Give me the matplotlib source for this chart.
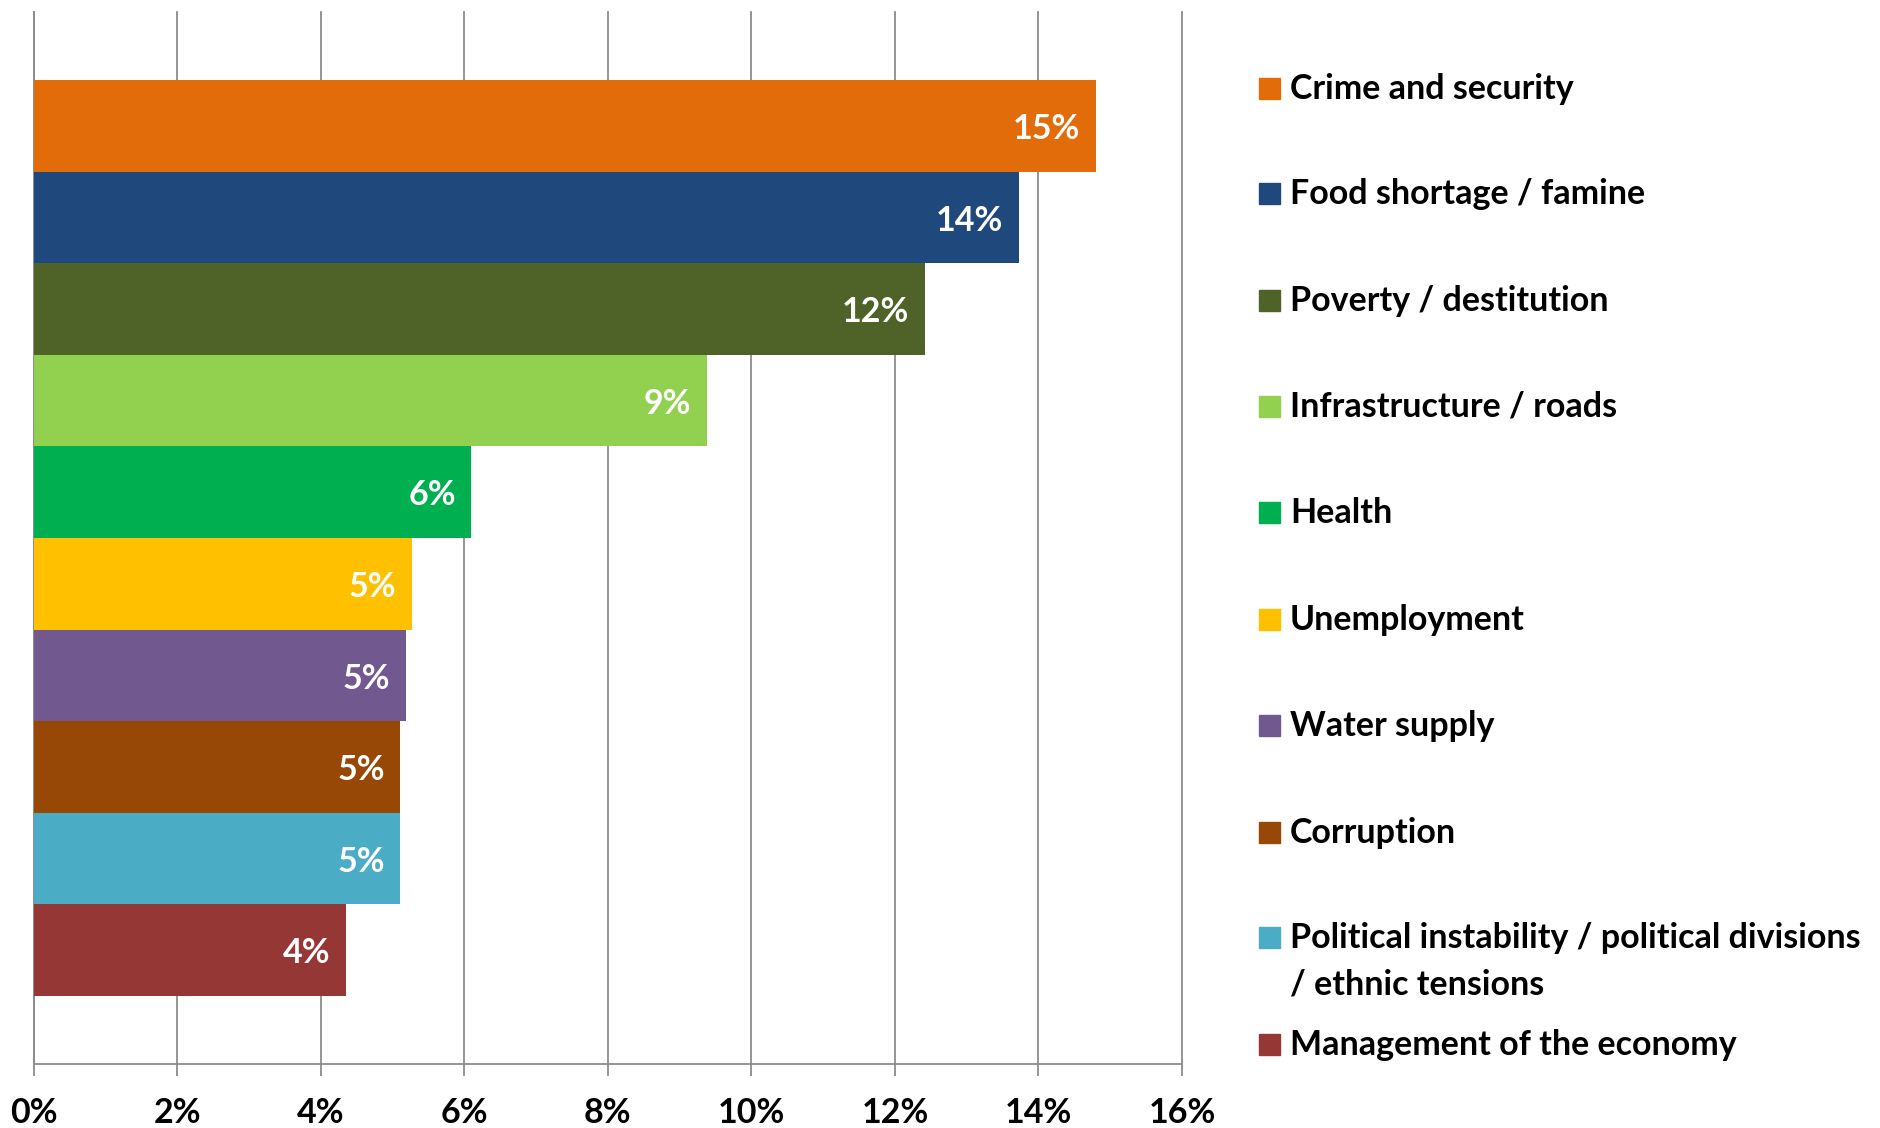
import matplotlib
matplotlib.use("Agg")
import matplotlib.pyplot as plt
from matplotlib.patches import Rectangle

# ---- data ----
categories = ["Crime and security", "Food shortage / famine", "Poverty / destitution",
              "Infrastructure / roads", "Health", "Unemployment", "Water supply",
              "Corruption", "Political instability / political divisions\n/ ethnic tensions",
              "Management of the economy"]
values = [14.80, 13.73, 12.42, 9.38, 6.10, 5.27, 5.19, 5.11, 5.11, 4.35]
labels = ["15%", "14%", "12%", "9%", "6%", "5%", "5%", "5%", "5%", "4%"]
colors = ["#E36C0A", "#1F497D", "#4F6228", "#92D050", "#00B050", "#FFC000",
          "#71588F", "#974806", "#4BACC6", "#953735"]
xticks = [0, 2, 4, 6, 8, 10, 12, 14, 16]
xticklabels = ["0%", "2%", "4%", "6%", "8%", "10%", "12%", "14%", "16%"]

plt.rcParams['font.family'] = ['Lato', 'DejaVu Sans']
plt.rcParams['font.weight'] = 'bold'

W, H = 1881, 1128
fig = plt.figure(figsize=(W / 100, H / 100), dpi=100)

left, right, top, bottom = 33.6, 1182, 12, 1064
ax = fig.add_axes([left / W, 1 - bottom / H, (right - left) / W, (bottom - top) / H])

FS = 24.5
n = len(values)
gap = 0.0646
bh = (1 - 2 * gap) / n
ys = [1 - gap - bh * (i + 0.5) for i in range(n)]
ax.barh(ys, values, height=bh, color=colors, zorder=3)
for y, v, lab in zip(ys, values, labels):
    ax.text(v - 0.22, y - 0.003, lab, ha='right', va='center', color='white',
            fontsize=FS, fontweight='bold', zorder=4)

ax.set_xlim(0, 16)
ax.set_ylim(0, 1)
ax.set_yticks([])
ax.set_xticks(xticks)
ax.set_xticklabels(xticklabels, fontsize=FS, fontweight='bold')
ax.tick_params(axis='x', length=8.6, width=1.3, color='#8C8C8C', pad=15)
ax.grid(axis='x', color='#8C8C8C', linewidth=1.3, zorder=0)
for gl in ax.get_xgridlines():
    gl.set_clip_on(False)
for s in ['top', 'right']:
    ax.spines[s].set_visible(False)
for s in ['left', 'bottom']:
    ax.spines[s].set_color('#8C8C8C')
    ax.spines[s].set_linewidth(1.3)

# ---- legend (manual placement) ----
leg_y = [89, 194, 301, 407, 513, 620, 726, 833, 938, 1045]
msz = 21
for name, c, yy in zip(categories, colors, leg_y):
    fig.patches.append(Rectangle((1259 / W, 1 - (yy - 1 + msz / 2) / H), msz / W, msz / H,
                                 transform=fig.transFigure, color=c))
    fig.text(1290 / W, 1 - yy / H, name.split("\n")[0], ha='left', va='center',
             fontsize=FS, fontweight='bold', color='black')
    if "\n" in name:
        fig.text(1290 / W, 1 - (yy + 46) / H, name.split("\n")[1], ha='left', va='center',
                 fontsize=FS, fontweight='bold', color='black')

fig.savefig("out.png", dpi=100)
